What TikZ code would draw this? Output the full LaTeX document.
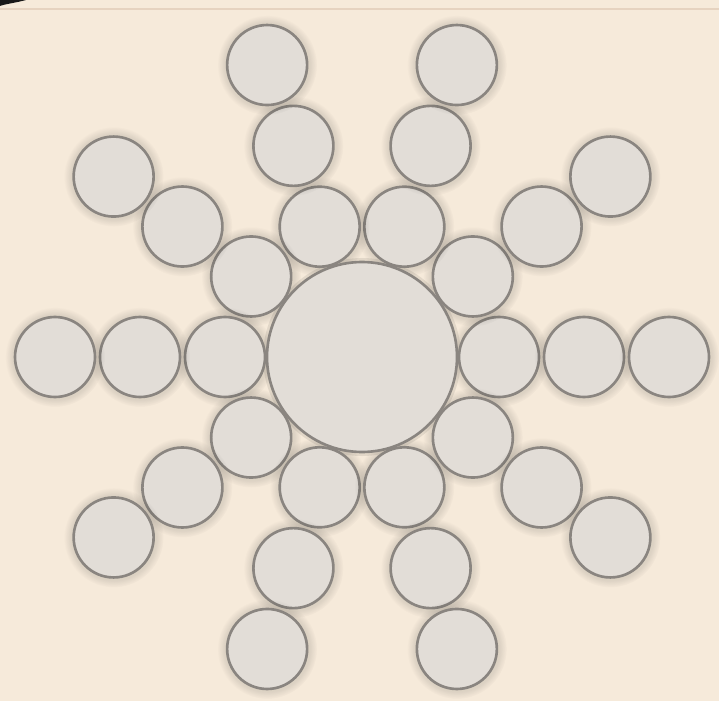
\documentclass[tikz,border=0pt]{standalone}
\usepackage{tikz}
\usepackage{xcolor}
\usetikzlibrary{shadows,calc}

\definecolor{paper}{HTML}{F6EADA}
\definecolor{disc}{HTML}{E2DDD7}
\definecolor{rim}{HTML}{8A8580}
\definecolor{rule}{HTML}{E6D3C0}

\begin{document}
\begin{tikzpicture}[x=0.02cm,y=0.02cm,
    hubdisc/.style={circle,draw=rim,line width=1.5pt,fill=disc,
        minimum size=190*0.02cm,inner sep=0pt},
    armdisc/.style={circle,draw=rim,line width=1.5pt,fill=disc,
        minimum size=80*0.02cm,inner sep=0pt,
        circular glow={fill=black,opacity=0.1}}
]
    \fill[paper] (0,0) rectangle (719,701);
    \useasboundingbox (0,0) rectangle (719,701);
    \draw[rule,line width=0.6pt] (0,692) -- (719,692);
    \fill[black!90] (0,701) -- (26,701) .. controls (15,698) and (5,697) .. (0,695) -- cycle;

    \coordinate (mid) at (362,344);
    \fill[black,opacity=0.08] (mid) circle (99);
    % ten arms of three discs each
    \foreach \a in {0,36,...,324} {
        \foreach \r [count=\k] in {137,222,307} {
            \node[armdisc] (arm\a-\k) at ($(mid)+(\a:\r)$) {};
        }
    }
    \node[hubdisc] (hub) at (mid) {};
\end{tikzpicture}
\end{document}
